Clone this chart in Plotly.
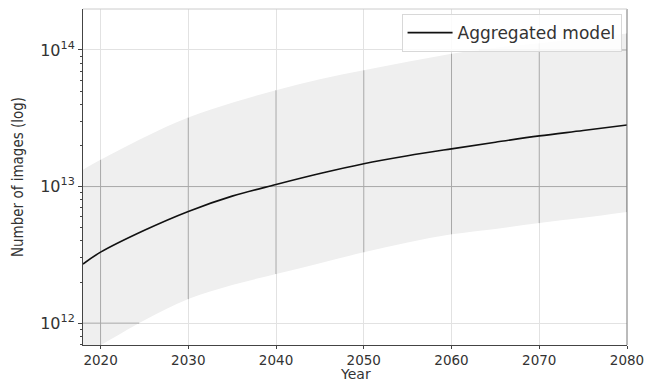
import numpy as np
import plotly.graph_objects as go

years = [2018, 2020, 2025, 2030, 2035, 2040, 2045, 2050, 2055, 2060, 2065, 2070, 2075, 2080]
median = [2.71e12, 3.31e12, 4.79e12, 6.58e12, 8.51e12, 1.035e13, 1.245e13, 1.469e13,
          1.679e13, 1.888e13, 2.113e13, 2.35e13, 2.57e13, 2.82e13]
upper = [1.33e13, 1.57e13, 2.3e13, 3.2e13, 4.1e13, 5.07e13, 6.1e13, 7.1e13,
         8.2e13, 9.4e13, 1.04e14, 1.12e14, 1.22e14, 1.32e14]
lower = [5.9e11, 6.9e11, 1.05e12, 1.5e12, 1.9e12, 2.29e12, 2.75e12, 3.3e12,
         3.9e12, 4.47e12, 4.9e12, 5.4e12, 5.9e12, 6.5e12]
decade_ticks = [2020, 2030, 2040, 2050, 2060, 2070, 2080]
y_ticks = [1e12, 1e13, 1e14]
y_ticktext = ["10<sup>12</sup>", "10<sup>13</sup>", "10<sup>14</sup>"]
y_minor = [m * 10 ** e for e in (11, 12, 13, 14) for m in range(2, 10)]

X_RANGE = [2018, 2080]
Y_RANGE_LOG = [11.84, 14.30]

GRID_OUT = "#e2e2e2"
GRID_IN = "#a8a8a8"
BAND = "#efefef"

fig = go.Figure()

# uncertainty band
fig.add_trace(go.Scatter(x=years, y=lower, mode="lines", line=dict(width=0, color=BAND),
                         showlegend=False, hoverinfo="skip", line_shape="spline"))
fig.add_trace(go.Scatter(x=years, y=upper, mode="lines", line=dict(width=0, color=BAND),
                         fill="tonexty", fillcolor=BAND, showlegend=False, hoverinfo="skip",
                         line_shape="spline"))

# darker gridlines inside the band
ly = np.log10(np.array(lower))
uy = np.log10(np.array(upper))
yr = np.array(years, dtype=float)
for d in decade_ticks:
    lo = 10 ** max(np.interp(d, yr, ly), Y_RANGE_LOG[0])
    hi = 10 ** min(np.interp(d, yr, uy), Y_RANGE_LOG[1])
    fig.add_trace(go.Scatter(x=[d, d], y=[lo, hi], mode="lines",
                             line=dict(color=GRID_IN, width=1), showlegend=False, hoverinfo="skip"))
fine = np.linspace(X_RANGE[0], X_RANGE[1], 621)
fl = np.interp(fine, yr, ly)
fu = np.interp(fine, yr, uy)
for t in y_ticks:
    lt = np.log10(t)
    inside = (fl <= lt) & (fu >= lt)
    if inside.any():
        xs = fine[inside]
        fig.add_trace(go.Scatter(x=[xs.min(), xs.max()], y=[t, t], mode="lines",
                                 line=dict(color=GRID_IN, width=1), showlegend=False, hoverinfo="skip"))

# median line
fig.add_trace(go.Scatter(x=years, y=median, mode="lines", name="Aggregated model",
                         line=dict(color="#111111", width=1.6), line_shape="spline"))

fig.update_layout(
    width=657, height=381,
    margin=dict(l=83, r=30, t=9, b=36),
    plot_bgcolor="white", paper_bgcolor="white",
    font=dict(family="DejaVu Sans", size=14, color="#333333"),
    legend=dict(x=0.99, y=0.985, xanchor="right", yanchor="top",
                bgcolor="rgba(255,255,255,0.85)", bordercolor="#d8d8d8", borderwidth=1,
                font=dict(size=17, color="#333333"), itemwidth=45,
                tracegroupgap=0),
    annotations=[dict(text="Year", xref="paper", yref="paper", x=0.5, y=0,
                      xanchor="center", yanchor="bottom", yshift=-38, showarrow=False,
                      borderpad=0, font=dict(size=14, color="#333333"))],
)
fig.update_xaxes(range=X_RANGE, tickvals=decade_ticks, showgrid=True, gridcolor=GRID_OUT,
                 gridwidth=1, zeroline=False, showline=True, linecolor="#444444", linewidth=1,
                 mirror=False, ticks="outside", ticklen=3, tickcolor="#444444",
                 automargin=False, tickfont=dict(size=13.5))
fig.update_yaxes(type="log", range=Y_RANGE_LOG, tickvals=y_ticks, ticktext=y_ticktext,
                 showgrid=True, gridcolor=GRID_OUT, gridwidth=1, zeroline=False,
                 showline=True, linecolor="#444444", linewidth=1, mirror=False,
                 ticks="outside", ticklen=4, tickcolor="#444444",
                 automargin=False,
                 minor=dict(tickvals=y_minor, ticks="outside", ticklen=2,
                            tickcolor="#444444", showgrid=False),
                 title=dict(text="Number of images (log)",
                            font=dict(family="DejaVu Sans Condensed, DejaVu Sans", size=15),
                            standoff=12),
                 tickfont=dict(size=16))

# right / top frame
fig.add_shape(type="line", xref="paper", yref="paper", x0=1, x1=1, y0=0, y1=1,
              line=dict(color="#777777", width=1))
fig.add_shape(type="line", xref="paper", yref="paper", x0=0, x1=1, y0=1, y1=1,
              line=dict(color="#cccccc", width=1))

fig.write_html("out.html", config={"displayModeBar": False},
               post_script="document.body.style.margin='0px';")
